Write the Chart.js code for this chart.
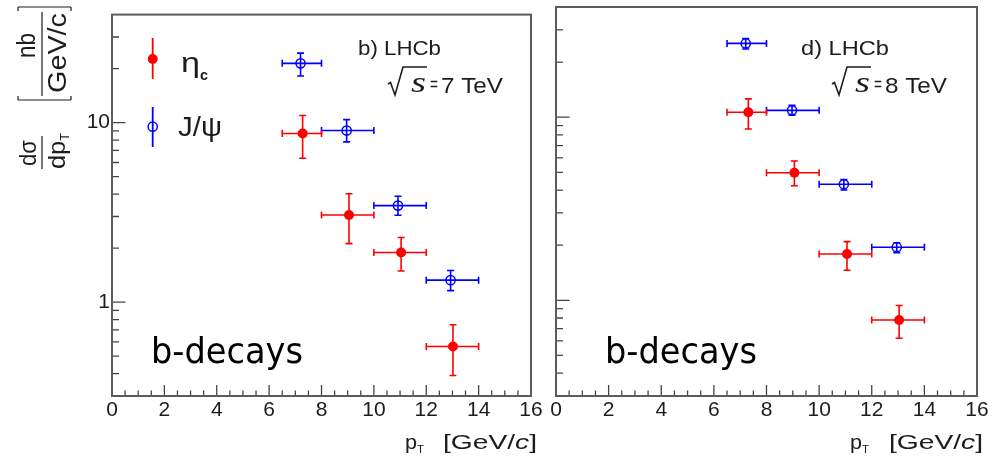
<!DOCTYPE html>
<html><head><meta charset="utf-8">
<script src="https://cdn.jsdelivr.net/npm/chart.js@4.4.1/dist/chart.umd.min.js"></script>
<style>
html,body{margin:0;padding:0;background:#fff;width:998px;height:458px;overflow:hidden}
#c1{position:absolute;left:0;top:0}
#c2{position:absolute;left:540px;top:0}
</style></head><body>
<canvas id="c1" width="545" height="458"></canvas>
<canvas id="c2" width="458" height="458"></canvas>
<script>
// ---------------- data ----------------
const binLow  = [6.5, 8, 10, 12];
const binHigh = [8, 10, 12, 14];

// sqrt(s) = 7 TeV
const etac7X     = [7.28, 9.05, 11.04, 13.02];
const etac7Y     = [8.7, 3.06, 1.89, 0.566];
const etac7YLow  = [6.34, 2.12, 1.49, 0.39];
const etac7YHigh = [10.97, 4.02, 2.29, 0.748];
const jpsi7X     = [7.2, 8.96, 10.92, 12.93];
const jpsi7Y     = [21.4, 9.04, 3.45, 1.326];
const jpsi7YLow  = [18.2, 7.82, 3.05, 1.16];
const jpsi7YHigh = [24.4, 10.4, 3.89, 1.5];

// sqrt(s) = 8 TeV
const etac8X     = [7.31, 9.06, 11.06, 13.04];
const etac8Y     = [10.65, 4.97, 1.79, 0.78];
const etac8YLow  = [8.63, 4.22, 1.46, 0.62];
const etac8YHigh = [12.6, 5.77, 2.09, 0.936];
const jpsi8X     = [7.21, 8.97, 10.94, 12.95];
const jpsi8Y     = [25.3, 10.9, 4.3, 1.95];
const jpsi8YLow  = [23.6, 10.25, 4.0, 1.82];
const jpsi8YHigh = [26.9, 11.6, 4.57, 2.06];

// ticks
const xTickLabels = [0, 2, 4, 6, 8, 10, 12, 14, 16];
const xMinorTicks = [0.5, 1, 1.5, 2.5, 3, 3.5, 4.5, 5, 5.5, 6.5, 7, 7.5, 8.5, 9, 9.5,
                     10.5, 11, 11.5, 12.5, 13, 13.5, 14.5, 15, 15.5];
const yTickLabels = [1, 10];
const yMinorTicks = [0.3, 0.4, 0.5, 0.6, 0.7, 0.8, 0.9, 2, 3, 4, 5, 6, 7, 8, 9, 20, 30];
const xRange = [0, 16];
const yRange = [0.3, 40];

const RED = '#ff0000', BLUE = '#0000ff', TXT = '#1c1c1c';
const SANS = '"Liberation Sans", Arial, sans-serif';

function pts(xs, ys, lo, hi) {
  return xs.map((x, i) => ({x: x, y: ys[i], xMin: binLow[i], xMax: binHigh[i], yMin: lo[i], yMax: hi[i]}));
}

// ---------------- drawing helpers ----------------
function textRuns(ctx, parts, x, y, width, align) {
  let total = 0;
  parts.forEach(p => { ctx.font = p.f; p.w = ctx.measureText(p.t).width; total += p.w; });
  const sx = width ? width / total : 1;
  ctx.save();
  ctx.translate(x, y);
  ctx.scale(sx, 1);
  ctx.textBaseline = 'alphabetic';
  ctx.textAlign = 'left';
  let cx = align === 'center' ? -total / 2 : (align === 'right' ? -total : 0);
  parts.forEach(p => { ctx.font = p.f; ctx.fillText(p.t, cx + (p.dx || 0), p.dy || 0); cx += p.w + (p.dx || 0); });
  ctx.restore();
}
function line(ctx, x0, y0, x1, y1) { ctx.moveTo(x0, y0); ctx.lineTo(x1, y1); }

// ---------------- plugins ----------------
const errorBars = {
  id: 'errorBars',
  beforeDatasetsDraw(chart) {
    const {ctx, scales: {x, y}} = chart;
    chart.data.datasets.forEach(ds => {
      ctx.save();
      ctx.strokeStyle = ds.borderColor;
      ctx.lineWidth = 1.6;
      ctx.beginPath();
      ds.data.forEach(p => {
        const px = x.getPixelForValue(p.x), py = y.getPixelForValue(p.y);
        const x0 = x.getPixelForValue(p.xMin), x1 = x.getPixelForValue(p.xMax);
        const y0 = y.getPixelForValue(p.yMin), y1 = y.getPixelForValue(p.yMax);
        const c = 3.5;
        line(ctx, x0, py, x1, py); line(ctx, px, y0, px, y1);
        line(ctx, x0, py - c, x0, py + c); line(ctx, x1, py - c, x1, py + c);
        line(ctx, px - c, y0, px + c, y0); line(ctx, px - c, y1, px + c, y1);
      });
      ctx.stroke();
      ctx.restore();
    });
  }
};

const frameTicks = {
  id: 'frameTicks',
  afterDraw(chart) {
    const {ctx, chartArea: a, scales: {x, y}} = chart;
    ctx.save();
    ctx.strokeStyle = '#444';
    ctx.lineWidth = 1.3;
    ctx.beginPath();
    xTickLabels.forEach(v => { const px = x.getPixelForValue(v); line(ctx, px, a.bottom, px, a.bottom - 11); });
    xMinorTicks.forEach(v => { const px = x.getPixelForValue(v); line(ctx, px, a.bottom, px, a.bottom - 5.5); });
    yTickLabels.forEach(v => { const py = y.getPixelForValue(v); line(ctx, a.left, py, a.left + 13.5, py); });
    yMinorTicks.forEach(v => { const py = y.getPixelForValue(v); line(ctx, a.left, py, a.left + 7, py); });
    ctx.stroke();
    ctx.strokeStyle = '#5c5c5c';
    ctx.lineWidth = 2;
    ctx.strokeRect(a.left, a.top, a.right - a.left, a.bottom - a.top);
    ctx.restore();
  }
};

function sqrtS(ctx, ox, energy) {
  // radical sign
  ctx.save();
  ctx.strokeStyle = TXT; ctx.lineWidth = 1.6;
  ctx.beginPath();
  ctx.moveTo(ox + 0, 84); ctx.lineTo(ox + 2.5, 82.5); ctx.lineTo(ox + 7, 95);
  ctx.lineTo(ox + 15, 67); ctx.lineTo(ox + 39, 67);
  ctx.stroke();
  ctx.restore();
  ctx.fillStyle = TXT;
  textRuns(ctx, [{t: 's', f: 'italic 29px "Liberation Serif", serif'}], ox + 23, 92, 15);
  textRuns(ctx, [{t: '=', f: '20px ' + SANS}], ox + 42, 91, 8);
  textRuns(ctx, [{t: energy + ' TeV', f: '22px ' + SANS}], ox + 53, 93, 62);
}

function xTitle(ctx, xp, right) {
  ctx.fillStyle = TXT;
  textRuns(ctx, [{t: 'p', f: '21px ' + SANS}], xp, 449, 12);
  textRuns(ctx, [{t: 'T', f: '11px ' + SANS}], xp + 12, 453, 7);
  textRuns(ctx, [{t: '[GeV/', f: '21px ' + SANS}, {t: 'c', f: 'italic 21px ' + SANS}, {t: ']', f: '21px ' + SANS}],
           right - 94, 449, 94);
}

function bDecays(ctx, x) {
  ctx.fillStyle = '#000';
  textRuns(ctx, [{t: 'b-decays', f: '35px "DejaVu Sans", sans-serif'}], x, 363, 152);
}

const decorLeft = {
  id: 'decorLeft',
  afterDraw(chart) {
    const ctx = chart.ctx;
    ctx.save();
    ctx.fillStyle = TXT;
    // y-axis title (rotated)
    ctx.save();
    ctx.rotate(-Math.PI / 2);
    textRuns(ctx, [{t: 'dσ', f: '24px ' + SANS}], -166, 36, 26);
    textRuns(ctx, [{t: 'dp', f: '24px ' + SANS}, {t: 'T', f: '12px ' + SANS, dy: 4}], -169, 65, 36);
    textRuns(ctx, [{t: 'nb', f: '25px ' + SANS}], -58, 35, 25);
    textRuns(ctx, [{t: 'GeV/c', f: '25px ' + SANS}], -93, 66, 80);
    ctx.restore();
    ctx.strokeStyle = TXT; ctx.lineWidth = 1.2;
    ctx.beginPath();
    line(ctx, 42, 136, 42, 169);
    line(ctx, 42, 12, 42, 96);
    // brackets
    line(ctx, 18, 100, 71, 100); line(ctx, 18, 100, 18, 96); line(ctx, 71, 100, 71, 96);
    line(ctx, 18, 7, 71, 7); line(ctx, 18, 7, 18, 11); line(ctx, 71, 7, 71, 11);
    ctx.stroke();

    // legend
    ctx.lineWidth = 1.8;
    ctx.strokeStyle = RED; ctx.beginPath(); line(ctx, 152.7, 38, 152.7, 79); ctx.stroke();
    ctx.fillStyle = RED; ctx.beginPath(); ctx.arc(152.7, 59, 5, 0, Math.PI * 2); ctx.fill();
    ctx.strokeStyle = BLUE; ctx.beginPath(); line(ctx, 152.7, 107, 152.7, 147); ctx.stroke();
    ctx.lineWidth = 1.5; ctx.beginPath(); ctx.arc(152.7, 126.7, 4.6, 0, Math.PI * 2); ctx.stroke();
    ctx.fillStyle = TXT;
    textRuns(ctx, [{t: 'η', f: '28px ' + SANS}], 181, 72, 19);
    textRuns(ctx, [{t: 'c', f: 'bold 15px ' + SANS}], 200, 80, 8);
    textRuns(ctx, [{t: 'J/ψ', f: '27px ' + SANS}], 178, 136, 44);

    // annotations
    textRuns(ctx, [{t: 'b) LHCb', f: '20px ' + SANS}], 358, 55, 83);
    sqrtS(ctx, 388, 7);
    bDecays(ctx, 151);
    xTitle(ctx, 405, 537);
    ctx.restore();
  }
};

const OFF = 540;
const decorRight = {
  id: 'decorRight',
  afterDraw(chart) {
    const ctx = chart.ctx;
    ctx.save();
    ctx.fillStyle = TXT;
    textRuns(ctx, [{t: 'd) LHCb', f: '20px ' + SANS}], 801 - OFF, 55, 88);
    sqrtS(ctx, 832 - OFF, 8);
    bDecays(ctx, 605 - OFF);
    xTitle(ctx, 850 - OFF, 983 - OFF);
    ctx.restore();
  }
};

// ---------------- chart factory ----------------
function makeChart(id, etacPts, jpsiPts, yAxisWidth, padRight, showYLabels, decor) {
  return new Chart(document.getElementById(id), {
    type: 'scatter',
    data: {
      datasets: [
        {label: 'J/ψ', data: jpsiPts, borderColor: BLUE, backgroundColor: 'rgba(0,0,0,0)',
         pointRadius: 4.6, pointBorderWidth: 1.5, pointStyle: 'circle', pointHoverRadius: 4.6},
        {label: 'ηc', data: etacPts, borderColor: RED, backgroundColor: RED,
         pointRadius: 5, pointBorderWidth: 0, pointStyle: 'circle', pointHoverRadius: 5}
      ]
    },
    options: {
      responsive: false,
      animation: false,
      devicePixelRatio: 1,
      layout: {padding: {top: 7, right: padRight, bottom: 0, left: 0}},
      plugins: {legend: {display: false}, tooltip: {enabled: false}},
      events: [],
      scales: {
        x: {
          type: 'linear', min: xRange[0], max: xRange[1],
          afterBuildTicks: s => { s.ticks = xTickLabels.map(v => ({value: v})); },
          ticks: {color: '#1c1c1c', font: {family: SANS, size: 21}, padding: 2, maxRotation: 0, autoSkip: false},
          grid: {display: false, drawTicks: false, tickLength: 0},
          border: {display: false},
          afterFit: s => { s.height = 62; }
        },
        y: {
          type: 'logarithmic', min: yRange[0], max: yRange[1],
          afterBuildTicks: s => { s.ticks = yTickLabels.map(v => ({value: v})); },
          ticks: {display: showYLabels, color: '#1c1c1c', font: {family: SANS, size: 21}, padding: 2,
                  callback: v => String(v)},
          grid: {display: false, drawTicks: false, tickLength: 0},
          border: {display: false},
          afterFit: s => { s.width = yAxisWidth; }
        }
      }
    },
    plugins: [errorBars, frameTicks, decor]
  });
}

makeChart('c1', pts(etac7X, etac7Y, etac7YLow, etac7YHigh), pts(jpsi7X, jpsi7Y, jpsi7YLow, jpsi7YHigh),
          112, 14, true, decorLeft);
makeChart('c2', pts(etac8X, etac8Y, etac8YLow, etac8YHigh), pts(jpsi8X, jpsi8Y, jpsi8YLow, jpsi8YHigh),
          16, 21, false, decorRight);
</script>
</body></html>
